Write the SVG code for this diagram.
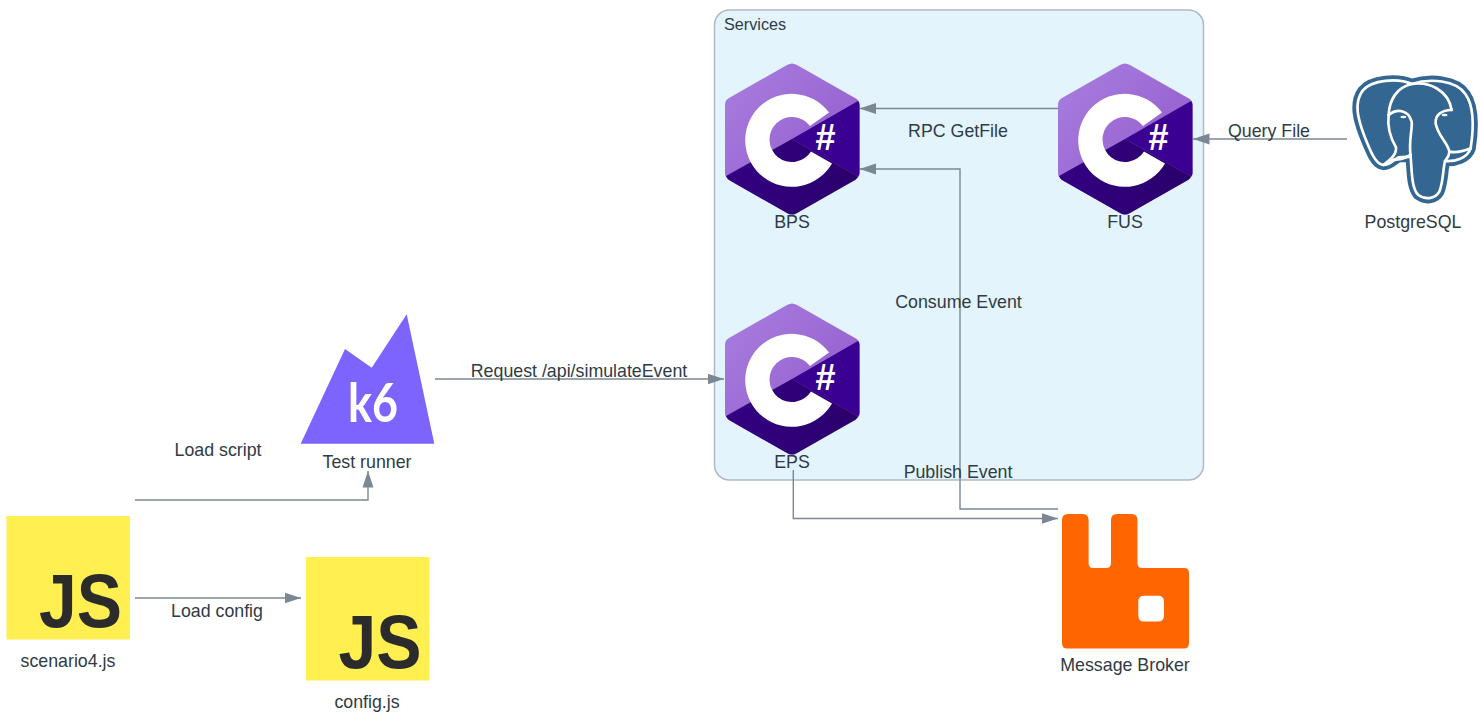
<svg xmlns="http://www.w3.org/2000/svg" width="1480" height="718" viewBox="0 0 1480 718">
<style>
text{font-family:"Liberation Sans",Arial,sans-serif;fill:#2f3b45;font-size:17.8px}
.c{text-anchor:middle}
.e{fill:none;stroke:#7b8894;stroke-width:1.4}
.js{fill:#ffef50}
.jt{font-weight:700;font-size:76px;fill:#2b2b2b;text-anchor:end}
.h{font-weight:700;font-size:36px;fill:#fff;text-anchor:middle}
</style>
<defs>
<marker id="a" markerUnits="userSpaceOnUse" markerWidth="17" markerHeight="12" refX="16.500" refY="6" orient="auto"><path d="M0 .5L16.500 6L0 11.500Z" fill="#7b8894"/></marker>
<linearGradient id="cg" x1="0" y1="0" x2="1" y2="1"><stop offset="0" stop-color="#a97fe0"/><stop offset="1" stop-color="#8f55c8"/></linearGradient>
<linearGradient id="cd" x1="0" y1="0" x2="1" y2="0"><stop offset="0" stop-color="#330082"/><stop offset="1" stop-color="#2a006b"/></linearGradient>
<g id="cs">
<path d="M787 65Q792 62 797 65L855 98Q859.500 100 859.500 105V173Q859.500 177 855 180L797 213Q792 216 787 213L729 180Q725 177 725 173V105Q725 100 729 98Z" fill="url(#cg)"/>
<path d="M858 101Q859.500 102 859.500 105V173Q859.500 175 858 176.500L792 139Z" fill="#390091"/>
<path d="M726 176L792 139L858 176.500Q857 178.500 855 180L797 213Q792 216 787 213L729 180Q727 178.500 726 176Z" fill="url(#cd)"/>
<path d="M829 112.500A46.500 46.500 0 1 0 832 163.500L811 151.500A22.500 22.500 0 1 1 810 126Z" fill="#fff"/>
</g>
<path id="pg" d="M215 72C175 54 95 58 68 92C40 130 55 180 72 225C90 270 105 312 130 315C150 315 160 300 175 292L212 290C216 340 215 385 235 405C255 420 285 418 298 395C310 365 308 335 315 303C345 305 382 295 392 265C402 200 400 135 376 102C348 60 270 54 215 72Z"/>
</defs>
<g id="services"><rect x="714.500" y="10" width="489" height="470" rx="15" fill="#e3f4fd" stroke="#aeb9c8" stroke-width="1.500"/><text x="724" y="30" style="font-size:16.200px">Services</text></g>
<g id="connectors">
<path class="e" d="M1058 108.500H859.500" marker-end="url(#a)"/>
<path class="e" d="M1347 139H1193" marker-end="url(#a)"/>
<path class="e" d="M435 379H724" marker-end="url(#a)"/>
<path class="e" d="M135 500H368V471" marker-end="url(#a)"/>
<path class="e" d="M135 598H301" marker-end="url(#a)"/>
<path class="e" d="M793.300 470V518.500H1058" marker-end="url(#a)"/>
<path class="e" d="M1058 509H960V169H859.500" marker-end="url(#a)"/>
</g>
<g id="edge-labels">
<text class="c" x="958" y="137">RPC GetFile</text>
<text class="c" x="1269" y="137">Query File</text>
<text class="c" x="958.500" y="308">Consume Event</text>
<text class="c" x="579" y="377">Request /api/simulateEvent</text>
<text class="c" x="958" y="478">Publish Event</text>
<text class="c" x="218" y="456">Load script</text>
<text class="c" x="217" y="617">Load config</text>
</g>
<g id="bps"><use href="#cs"/><text class="h" x="825.500" y="150">#</text><text class="c" x="792" y="228">BPS</text></g>
<g id="fus"><use href="#cs" x="333"/><text class="h" x="1158.500" y="150">#</text><text class="c" x="1125" y="228">FUS</text></g>
<g id="eps"><use href="#cs" y="240"/><text class="h" x="825.500" y="390">#</text><text class="c" x="792" y="468">EPS</text></g>
<g id="k6"><path d="M300.700 443.700L345 349L371.700 367.700L406.700 314.300L434.300 443.700Z" fill="#7d64ff"/><text x="348" y="422" textLength="50" lengthAdjust="spacingAndGlyphs" style="font-family:Lato,sans-serif;font-weight:700;font-size:54px;fill:#fff">k6</text><text class="c" x="367" y="468">Test runner</text></g>
<g id="scenario"><rect class="js" x="6.500" y="516" width="123.500" height="123.500"/><text class="jt" x="122" y="627" textLength="83" lengthAdjust="spacingAndGlyphs">JS</text><text class="c" x="68" y="667">scenario4.js</text></g>
<g id="config"><rect class="js" x="306" y="557" width="123.500" height="123.500"/><text class="jt" x="421.500" y="668" textLength="83" lengthAdjust="spacingAndGlyphs">JS</text><text class="c" x="367" y="708">config.js</text></g>
<g id="postgres"><g transform="translate(1340 60) scale(.3333)">
<use href="#pg" fill="#336791" stroke="#336791" stroke-width="31" stroke-linejoin="round"/>
<use href="#pg" fill="#336791" stroke="#fff" stroke-width="8" stroke-linejoin="round"/>
<g fill="none" stroke="#fff" stroke-width="8" stroke-linecap="round" stroke-linejoin="round">
<path d="M146 165C148 120 170 82 215 72C270 64 325 92 335 150"/>
<path d="M146 165C170 145 205 148 215 185C218 210 205 240 212 290"/>
<path d="M146 165C140 210 155 240 168 262C170 285 150 300 130 315"/>
<path d="M335 150C305 150 285 165 287 190C292 225 325 250 328 275C328 290 320 295 315 303"/>
<path d="M328 275C350 280 375 272 392 265"/>
<path d="M150 300C170 300 195 295 212 285"/>
</g>
<ellipse cx="190" cy="171" rx="9" ry="4" fill="#fff"/><ellipse cx="314" cy="165" rx="9" ry="4" fill="#fff"/>
</g><text class="c" x="1413" y="228">PostgreSQL</text></g>
<g id="broker"><path fill-rule="evenodd" d="M1068 514H1082.600Q1088.600 514 1088.600 520V563Q1088.600 568 1093 568H1106Q1111 568 1111 563V520Q1111 514 1117 514H1131.500Q1137.500 514 1137.500 520V563Q1137.500 568 1142 568H1184Q1189 568 1189 573V643Q1189 648.500 1184 648.500H1067Q1062 648.500 1062 643V520Q1062 514 1068 514ZM1144 595.700Q1138.300 595.700 1138.300 601.500V615.500Q1138.300 621.500 1144 621.500H1158Q1164 621.500 1164 615.500V601.500Q1164 595.700 1158 595.700Z" fill="#f60"/><text class="c" x="1125" y="671">Message Broker</text></g>
</svg>
